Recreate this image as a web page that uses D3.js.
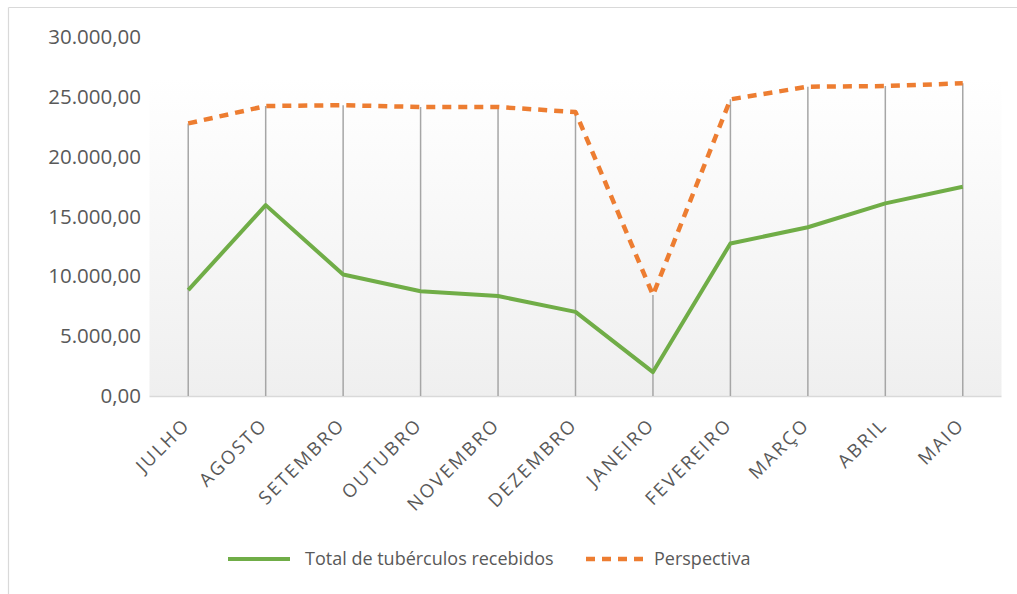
<!DOCTYPE html>
<html><head><meta charset="utf-8">
<script src="https://cdn.jsdelivr.net/npm/d3@7"></script>
<style>html,body{margin:0;padding:0;background:#fff;}svg{display:block;}</style>
</head><body>
<script>
const categories = ["JULHO","AGOSTO","SETEMBRO","OUTUBRO","NOVEMBRO","DEZEMBRO","JANEIRO","FEVEREIRO","MARÇO","ABRIL","MAIO"];
const totalRecebidos = [8850, 15950, 10150, 8750, 8350, 7030, 2000, 12750, 14100, 16100, 17480];
const perspectiva = [22780, 24230, 24300, 24150, 24150, 23730, 8440, 24790, 25850, 25900, 26130];
const yTicks = [0, 5000, 10000, 15000, 20000, 25000, 30000];
const seriesNames = ["Total de tubérculos recebidos", "Perspectiva"];

const W = 1017, H = 594;
const svg = d3.select("body").append("svg").attr("width", W).attr("height", H);
const font = "'Open Sans', 'Noto Sans', sans-serif";
const textColor = "#595959";

// outer border (top and left visible)
svg.append("line").attr("x1", 8.5).attr("x2", W).attr("y1", 7.5).attr("y2", 7.5).attr("stroke", "#d9d9d9").attr("stroke-width", 1.2);
svg.append("line").attr("x1", 8.5).attr("x2", 8.5).attr("y1", 7.5).attr("y2", H).attr("stroke", "#d9d9d9").attr("stroke-width", 1.2);

const x = d3.scaleBand().domain(categories).range([149.5, 1001.5]);
const y = d3.scaleLinear().domain([0, 30000]).range([396, 37]);

// plot-area gradient background
const defs = svg.append("defs");
const grad = defs.append("linearGradient").attr("id", "bg").attr("x1", 0).attr("y1", 0).attr("x2", 0).attr("y2", 1);
grad.append("stop").attr("offset", "0%").attr("stop-color", "#ffffff");
grad.append("stop").attr("offset", "100%").attr("stop-color", "#efefef");
svg.append("rect").attr("x", x.range()[0]).attr("y", 77)
  .attr("width", x.range()[1] - x.range()[0]).attr("height", y(0) - 77)
  .attr("fill", "url(#bg)");

// y axis labels
const fmt = v => d3.format(",.2f")(v).replace(/,/g, "#").replace(/\./g, ",").replace(/#/g, ".");
const yAxis = d3.axisLeft(y).tickValues(yTicks).tickFormat(fmt).tickSize(0).tickPadding(0);
const yg = svg.append("g").attr("transform", "translate(141,0)").call(yAxis);
yg.select(".domain").remove();
yg.selectAll("text").attr("font-family", font).attr("font-size", 20.5).attr("fill", textColor);

// x axis baseline
svg.append("line").attr("x1", x.range()[0]).attr("x2", x.range()[1]).attr("y1", y(0) + 0.5).attr("y2", y(0) + 0.5)
  .attr("stroke", "#d9d9d9").attr("stroke-width", 1.5);

// drop lines
const cx = c => x(c) + x.bandwidth() / 2;
svg.append("g").selectAll("line").data(categories).join("line")
  .attr("x1", c => cx(c)).attr("x2", c => cx(c))
  .attr("y1", (c, i) => y(Math.max(perspectiva[i], totalRecebidos[i])))
  .attr("y2", y(0))
  .attr("stroke", "#a6a6a6").attr("stroke-width", 1.5);

// x labels
const xg = svg.append("g");
xg.selectAll("text").data(categories).join("text")
  .attr("transform", c => `translate(${cx(c) + 3},${y(0) + 30}) rotate(-45)`)
  .attr("text-anchor", "end")
  .attr("font-family", font).attr("font-size", 18.5).attr("letter-spacing", 2.2).attr("fill", textColor)
  .text(c => c);

// lines
const line = d3.line().x((d, i) => cx(categories[i])).y(d => y(d));
svg.append("path").datum(totalRecebidos).attr("d", line)
  .attr("fill", "none").attr("stroke", "#70ad47").attr("stroke-width", 4).attr("stroke-linejoin", "round");
svg.append("path").datum(perspectiva).attr("d", line)
  .attr("fill", "none").attr("stroke", "#ed7d31").attr("stroke-width", 4.5)
  .attr("stroke-dasharray", "9,7").attr("stroke-linejoin", "round");

// legend
const ly = 559;
svg.append("line").attr("x1", 228).attr("x2", 290).attr("y1", ly).attr("y2", ly)
  .attr("stroke", "#70ad47").attr("stroke-width", 4);
svg.append("text").attr("x", 305).attr("y", ly).attr("dy", "0.35em")
  .attr("font-family", font).attr("font-size", 18).attr("fill", textColor).text(seriesNames[0]);
svg.append("line").attr("x1", 586).attr("x2", 643).attr("y1", ly).attr("y2", ly)
  .attr("stroke", "#ed7d31").attr("stroke-width", 4.5).attr("stroke-dasharray", "9,7");
svg.append("text").attr("x", 654).attr("y", ly).attr("dy", "0.35em")
  .attr("font-family", font).attr("font-size", 18).attr("fill", textColor).text(seriesNames[1]);
</script>
</body></html>
